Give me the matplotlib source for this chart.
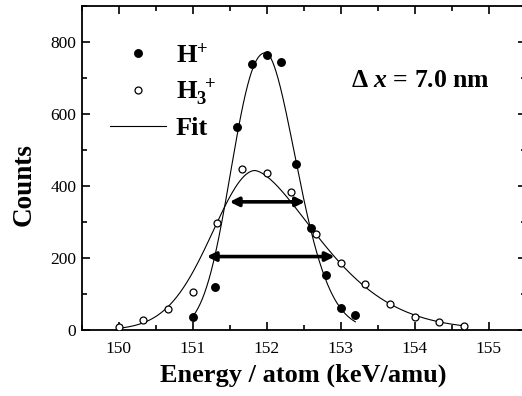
import numpy as np
import matplotlib
matplotlib.use("Agg")
import matplotlib.pyplot as plt
from matplotlib.lines import Line2D

plt.rcParams['font.family'] = ['Liberation Serif', 'DejaVu Serif']
plt.rcParams['mathtext.fontset'] = 'custom'
plt.rcParams['mathtext.rm'] = 'Liberation Serif:bold'
plt.rcParams['mathtext.bf'] = 'Liberation Serif:bold'
plt.rcParams['mathtext.it'] = 'Liberation Serif:bold:italic'

# ---- data ----
h_x = [151.0, 151.3, 151.6, 151.8, 152.0, 152.2, 152.4, 152.6, 152.8, 153.0, 153.2]
h_y = [35, 120, 564, 738, 763, 745, 462, 284, 152, 60, 43]

h3_x = [150.0, 150.33, 150.67, 151.0, 151.33, 151.67, 152.0, 152.33, 152.67,
        153.0, 153.33, 153.67, 154.0, 154.33, 154.67]
h3_y = [7, 28, 58, 106, 298, 447, 435, 384, 268, 187, 127, 71, 36, 21, 12]

# fit parameters (asymmetric generalized Gaussians)
h_fit = dict(amp=770, center=151.99, cl=3.1, pl=2.3, cr=2.5, pr=1.8, x0=151.0, x1=153.2)
h3_fit = dict(amp=443, center=151.84, cl=1.42, pl=1.9, cr=0.69, pr=1.6, x0=150.0, x1=154.7)

# FWHM arrows: (y level, x start, x end)
arrow_y = [356, 204]
arrow_x0 = [151.50, 151.19]
arrow_x1 = [152.52, 152.92]

xticks = [150, 151, 152, 153, 154, 155]
yticks = [0, 200, 400, 600, 800]


def fit_curve(p, n=300):
    x = np.linspace(p['x0'], p['x1'], n)
    d = x - p['center']
    y = np.where(d < 0,
                 p['amp'] * np.exp(-p['cl'] * np.abs(d) ** p['pl']),
                 p['amp'] * np.exp(-p['cr'] * np.abs(d) ** p['pr']))
    return x, y


fig = plt.figure(figsize=(5.22, 3.96), dpi=100)
ax = fig.add_axes([81.7 / 522, 66 / 396, (525.5 - 81.7) / 522, 324 / 396])

for p in (h_fit, h3_fit):
    fx, fy = fit_curve(p)
    ax.plot(fx, fy, color='black', lw=0.8, zorder=2)

ax.plot(h_x, h_y, 'o', color='black', ms=5.4, zorder=3)
ax.plot(h3_x, h3_y, 'o', mfc='white', mec='black', mew=0.9, ms=5.0, zorder=3)

for yv, xa, xb in zip(arrow_y, arrow_x0, arrow_x1):
    ax.annotate('', xy=(xb, yv), xytext=(xa, yv),
                arrowprops=dict(arrowstyle='<|-|>', color='black', lw=2.6,
                                mutation_scale=13, shrinkA=0, shrinkB=0),
                zorder=4)

ax.set_xlim(149.5, 155.5)
ax.set_ylim(0, 900)
ax.set_xticks(xticks)
ax.set_yticks(yticks)
ax.set_xticks(np.arange(149.5, 155.6, 0.5), minor=True)
ax.set_yticks(np.arange(0, 901, 100), minor=True)
ax.tick_params(which='both', direction='in', top=True, right=True, labelsize=12.5)
ax.tick_params(which='major', length=6, width=1.2)
ax.tick_params(which='minor', length=3.5, width=1.2)
ax.tick_params(axis='x', which='major', pad=8)
ax.tick_params(axis='y', which='major', pad=4)
for s in ax.spines.values():
    s.set_linewidth(1.3)

ax.set_xlabel('Energy / atom (keV/amu)', fontsize=19, fontweight='bold', labelpad=5)
ax.set_ylabel('Counts', fontsize=19.5, fontweight='bold', labelpad=10, y=0.448)

handles = [
    Line2D([], [], ls='none', marker='o', color='black', ms=5.4),
    Line2D([], [], ls='none', marker='o', mfc='white', mec='black', mew=0.9, ms=5.0),
    Line2D([], [], color='black', lw=0.8),
]
labels = [r'$\mathbf{H^{+}}$', r'$\mathbf{H_{3}^{\ +}}$', 'Fit']
leg = ax.legend(handles, labels, loc='upper left', bbox_to_anchor=(0.063, 0.885),
                frameon=False, fontsize=19, handlelength=2.15, handletextpad=0.35,
                labelspacing=0.36, borderpad=0, borderaxespad=0)
for t in leg.get_texts():
    t.set_fontweight('bold')

ax.text(0.607, 0.77, 'Δ $x$ = 7.0 nm', transform=ax.transAxes, fontsize=18.5,
        fontweight='bold', va='center', ha='left')

fig.savefig('out.png', dpi=100)
